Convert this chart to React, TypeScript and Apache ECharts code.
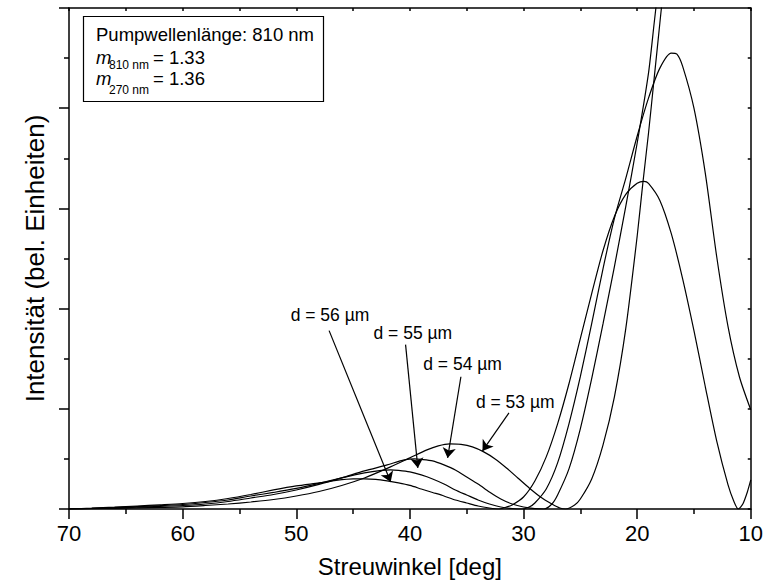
import React, { useEffect, useRef } from "react";
import * as echarts from "echarts";

// Scattering angle (deg) vs. intensity (arb. units) for four droplet diameters.
const curve53: [number, number][] = [
  [70, 0], [68, 0.003], [66, 0.007], [64, 0.011], [62, 0.016], [60, 0.022], [58, 0.035],
  [56, 0.05], [54, 0.07], [52, 0.095], [50, 0.13], [48, 0.175], [46, 0.235], [44, 0.31],
  [42, 0.405], [40, 0.51], [38.5, 0.59], [37.5, 0.63], [36.5, 0.65], [35.5, 0.645],
  [34.5, 0.62], [33.5, 0.57], [32.5, 0.5], [31.5, 0.41], [30.5, 0.31], [29.5, 0.21],
  [28.5, 0.12], [27.5, 0.05], [26.8, 0.01], [26.3, 0], [25.5, 0.04], [25, 0.1], [24, 0.3],
  [23, 0.64], [22, 1.12], [21, 1.8], [20, 2.72], [19.5, 3.25], [19, 3.75], [18.5, 4.3],
  [18, 4.85], [17.5, 5.4],
];

const curve54: [number, number][] = [
  [70, 0], [68, 0.005], [66, 0.011], [64, 0.018], [62, 0.026], [60, 0.035], [58, 0.05],
  [56, 0.075], [54, 0.11], [52, 0.145], [50, 0.19], [48, 0.245], [46, 0.31], [44, 0.38],
  [42, 0.44], [40.5, 0.49], [39.6, 0.5], [39, 0.495], [38, 0.48], [37, 0.44], [36, 0.39],
  [35, 0.32], [34, 0.25], [33, 0.17], [32, 0.1], [31, 0.05], [30, 0.02], [29, 0.004],
  [28.2, 0], [27.5, 0.05], [27, 0.14], [26, 0.4], [25, 0.8], [24, 1.3], [23, 1.85],
  [22, 2.42], [21, 3.02], [20, 3.65], [19, 4.35], [18.5, 4.85], [18, 5.35],
];

const curve55: [number, number][] = [
  [70, 0], [68, 0.006], [66, 0.014], [64, 0.024], [62, 0.034], [60, 0.045], [58, 0.065],
  [56, 0.09], [54, 0.13], [52, 0.165], [50, 0.205], [48, 0.255], [46, 0.31], [44, 0.36],
  [42.5, 0.385], [41.7, 0.39], [41, 0.385], [40, 0.37], [39, 0.34], [38, 0.3], [37, 0.25],
  [36, 0.19], [35, 0.14], [34, 0.09], [33, 0.05], [32, 0.02], [31, 0.005], [30.1, 0],
  [29.5, 0.02], [29, 0.06], [28, 0.2], [27, 0.46], [26, 0.85], [25, 1.32], [24, 1.85],
  [23, 2.4], [22, 2.9], [21, 3.3], [20, 3.72], [19, 4.1], [18, 4.4], [17, 4.55],
  [16.5, 4.54], [16, 4.42], [15, 4.0], [14, 3.35], [13, 2.52], [12, 1.82], [11, 1.32],
  [10, 0.99],
];

const curve56: [number, number][] = [
  [70, 0], [68, 0.008], [66, 0.018], [64, 0.03], [62, 0.042], [60, 0.055], [58, 0.075],
  [56, 0.105], [54, 0.145], [52, 0.19], [50, 0.23], [48, 0.26], [46.5, 0.285], [45, 0.3],
  [44, 0.3], [43, 0.295], [42, 0.28], [41, 0.26], [40, 0.235], [39, 0.2], [38, 0.165],
  [37, 0.13], [36, 0.09], [35, 0.06], [34, 0.03], [33, 0.01], [32.2, 0], [31.5, 0.02],
  [31, 0.04], [30, 0.12], [29, 0.28], [28, 0.52], [27, 0.85], [26, 1.25], [25, 1.7],
  [24, 2.15], [23, 2.58], [22, 2.92], [21, 3.14], [20, 3.25], [19.4, 3.27], [19, 3.25],
  [18, 3.08], [17, 2.75], [16, 2.3], [15, 1.78], [14, 1.22], [13, 0.68], [12, 0.24],
  [11.5, 0.08], [11.1, 0], [10.7, 0.05], [10.3, 0.17], [10, 0.29],
];

const curveNames = ["d = 53 µm", "d = 54 µm", "d = 55 µm", "d = 56 µm"];
const curves = [curve53, curve54, curve55, curve56];

// Annotation: label centre, arrow tail and arrow head, all in (angle, intensity).
const labelAt: [number, number][] = [[30.73, 1.07], [35.36, 1.45], [39.74, 1.76], [47.03, 1.94]];
const arrowFrom: [number, number][] = [[31.28, 0.96], [35.51, 1.32], [40.38, 1.64], [47.11, 1.78]];
const arrowTo: [number, number][] = [[33.61, 0.58], [36.68, 0.51], [39.3, 0.41], [41.69, 0.27]];

const FONT = "'Liberation Sans', Arial, Helvetica, sans-serif";

export default function App() {
  const ref = useRef<HTMLDivElement>(null);

  useEffect(() => {
    const chart = echarts.init(ref.current!, null, { renderer: "svg" });
    const axisLine = { show: true, onZero: false, lineStyle: { color: "#000", width: 1.5 } };
    const tickStyle = { color: "#000", width: 1.5 };

    const series = curves.map((data, i) => ({
      type: "line",
      name: curveNames[i],
      data,
      showSymbol: false,
      smooth: 0.25,
      clip: true,
      lineStyle: { color: "#000", width: 1.2 },
      markLine: {
        silent: true,
        symbol: ["none", "arrow"],
        symbolSize: 10,
        label: { show: false },
        lineStyle: { color: "#000", width: 1.2, type: "solid" },
        data: [[{ coord: arrowFrom[i] }, { coord: arrowTo[i] }]],
      },
      markPoint: {
        silent: true,
        symbol: "circle",
        symbolSize: 0,
        label: {
          show: true,
          position: "inside",
          formatter: curveNames[i],
          color: "#000",
          fontSize: 17.5,
          fontFamily: FONT,
        },
        data: [{ coord: labelAt[i] }],
      },
    }));

    const legendText = (text: string, x: number, y: number, size: number, italic = false) => ({
      type: "text",
      x,
      y,
      z: 11,
      style: {
        text,
        font: `${italic ? "italic " : ""}${size}px ${FONT}`,
        fill: "#000",
        align: "left",
        verticalAlign: "middle",
      },
    });

    chart.setOption({
      animation: false,
      backgroundColor: "#fff",
      grid: { left: 69, right: 11, top: 8, bottom: 79 },
      xAxis: [
        {
          type: "value",
          position: "bottom",
          min: 10,
          max: 70,
          interval: 10,
          inverse: true,
          axisLine,
          axisTick: { show: true, inside: false, length: 10, lineStyle: tickStyle },
          minorTick: { show: true, splitNumber: 2, length: 5, lineStyle: tickStyle },
          axisLabel: { color: "#000", fontSize: 22, margin: 13, fontFamily: FONT },
          splitLine: { show: false },
          name: "Streuwinkel [deg]",
          nameLocation: "middle",
          nameGap: 45,
          nameTextStyle: { color: "#000", fontSize: 24, fontFamily: FONT },
        },
        {
          type: "value",
          position: "top",
          min: 10,
          max: 70,
          interval: 5,
          inverse: true,
          axisLine,
          axisTick: { show: true, inside: true, length: 3, lineStyle: tickStyle },
          axisLabel: { show: false },
          splitLine: { show: false },
        },
      ],
      yAxis: [
        {
          type: "value",
          position: "left",
          min: 0,
          max: 5,
          interval: 1,
          axisLine,
          axisTick: { show: true, inside: false, length: 10, lineStyle: tickStyle },
          minorTick: { show: true, splitNumber: 2, length: 5, lineStyle: tickStyle },
          axisLabel: { show: false },
          splitLine: { show: false },
          name: "Intensität (bel. Einheiten)",
          nameLocation: "middle",
          nameGap: 21,
          nameRotate: 90,
          nameTextStyle: { color: "#000", fontSize: 26, fontFamily: FONT },
        },
        {
          type: "value",
          position: "right",
          min: 0,
          max: 5,
          interval: 0.5,
          axisLine,
          axisTick: { show: true, inside: true, length: 3, lineStyle: tickStyle },
          axisLabel: { show: false },
          splitLine: { show: false },
        },
      ],
      graphic: [
        {
          type: "rect",
          shape: { x: 83.5, y: 16.5, width: 240, height: 85 },
          style: { fill: "#fff", stroke: "#000", lineWidth: 1.2 },
          z: 10,
        },
        legendText("Pumpwellenlänge: 810 nm", 96, 34, 18.5),
        legendText("m", 96, 57, 18.5, true),
        legendText("810 nm", 109, 65, 12),
        legendText("= 1.33", 153, 57, 18.5),
        legendText("m", 96, 78, 18.5, true),
        legendText("270 nm", 109, 90, 12),
        legendText("= 1.36", 153, 78, 18.5),
      ],
      series,
    });

    return () => chart.dispose();
  }, []);

  return (
    <div
      ref={ref}
      style={{ position: "fixed", left: 0, top: 0, width: 766, height: 588, background: "#fff" }}
    />
  );
}
